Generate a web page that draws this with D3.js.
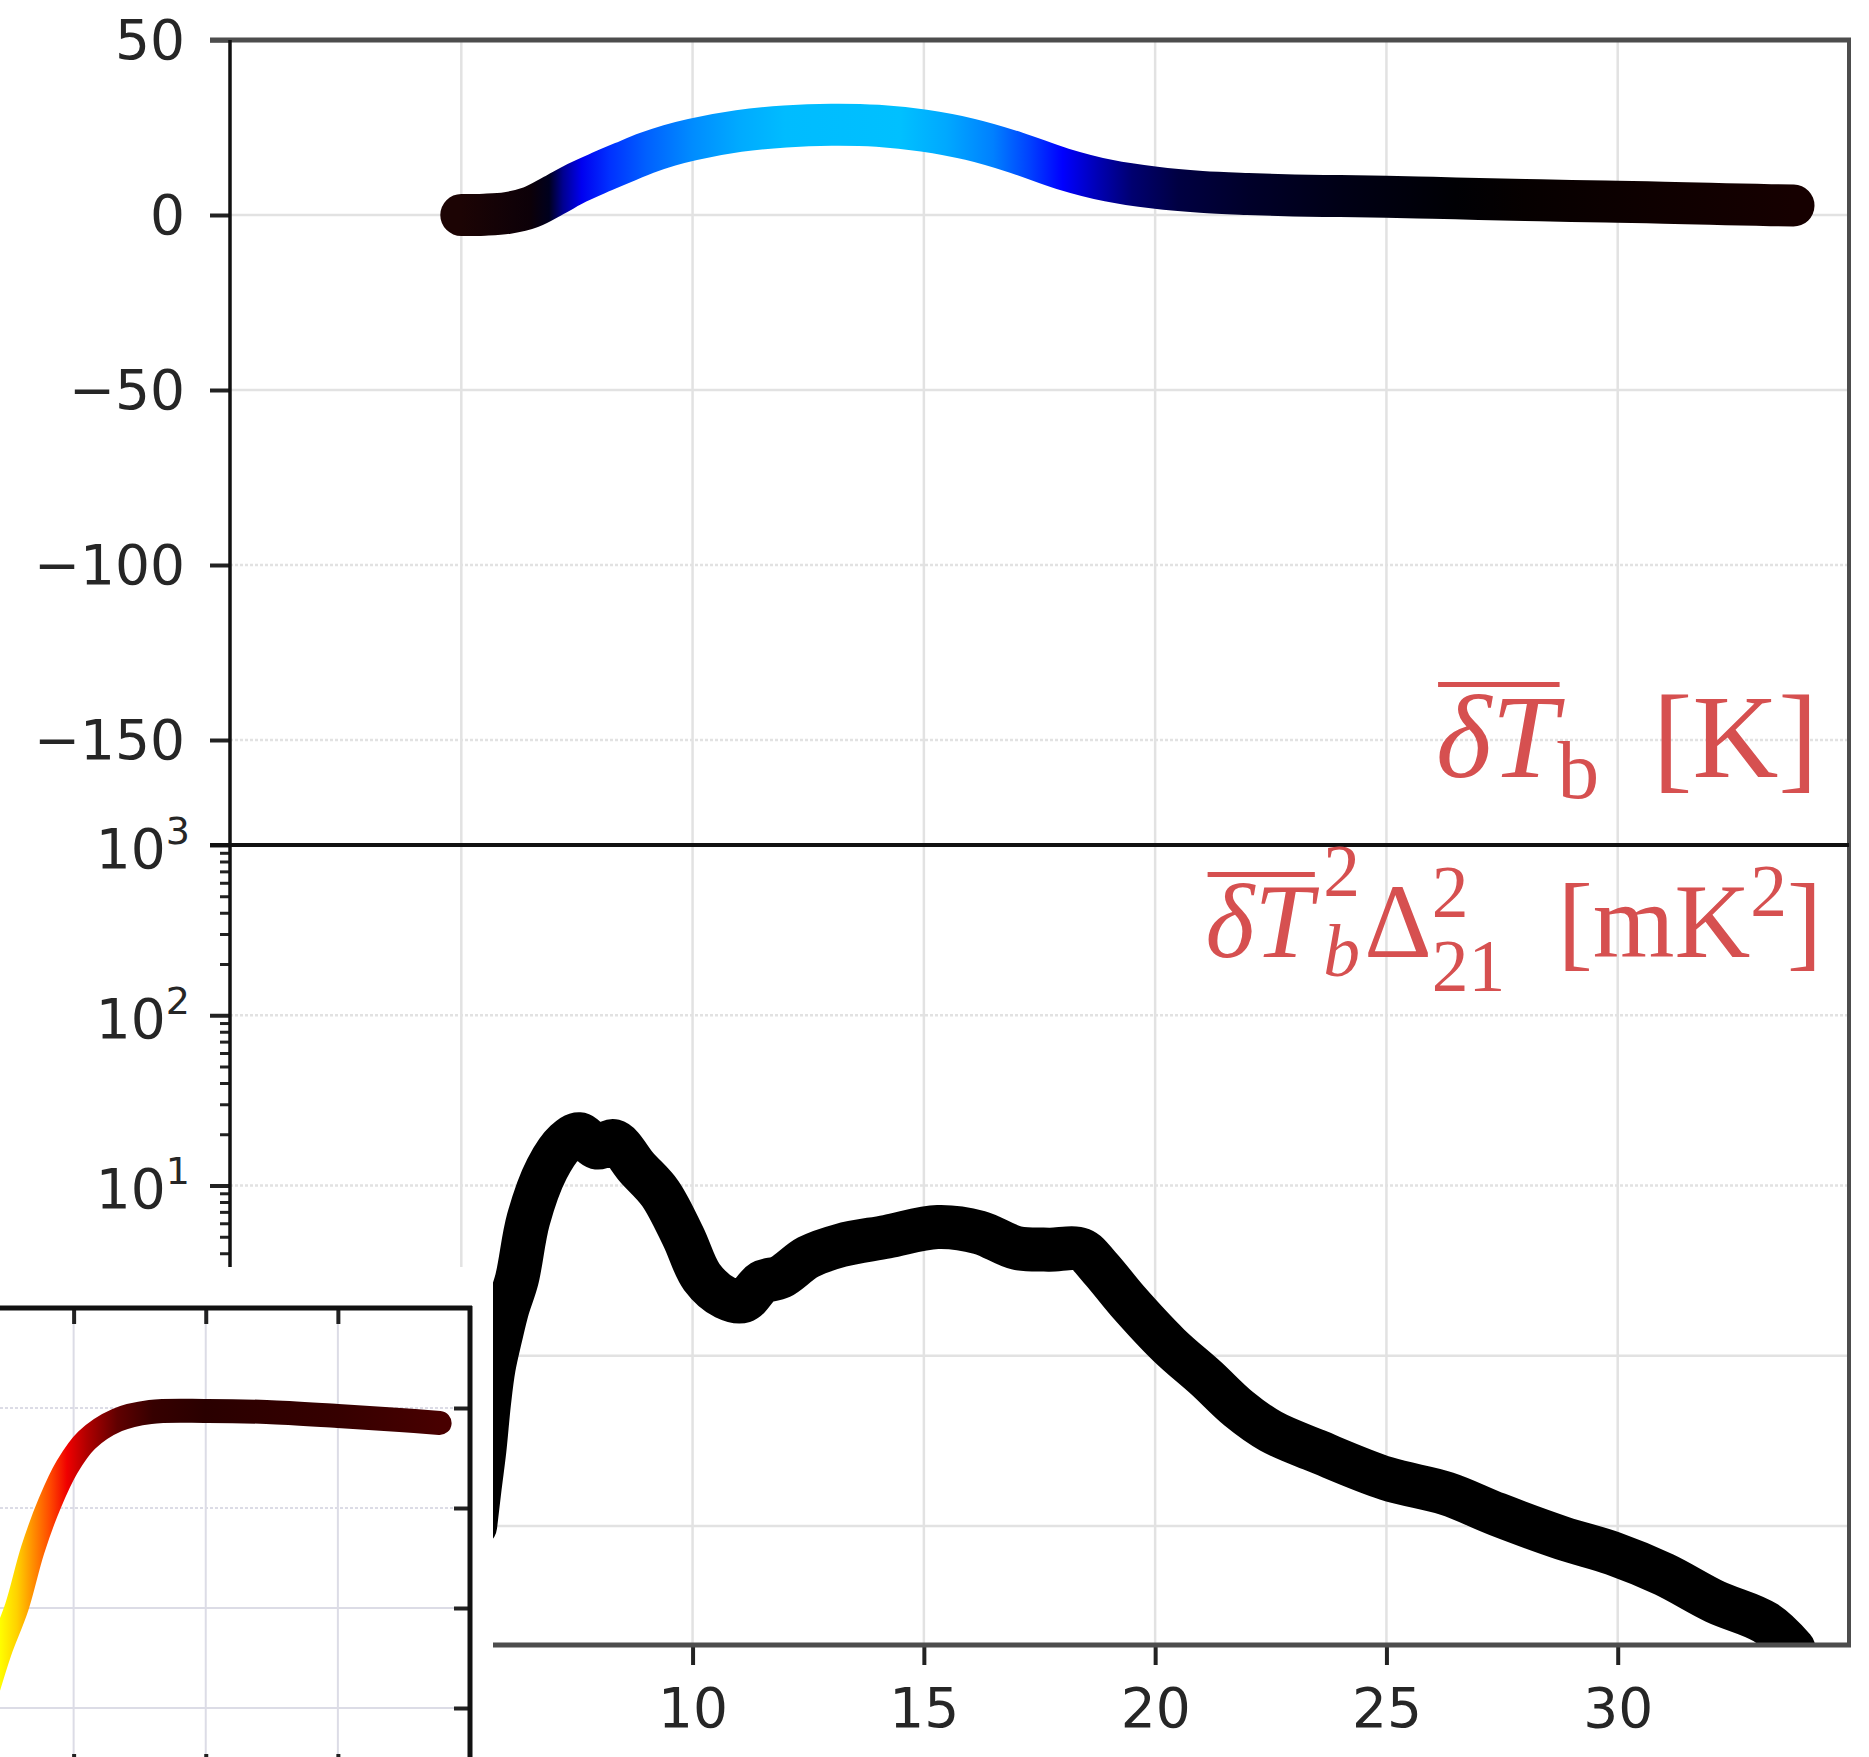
<!DOCTYPE html>
<html>
<head>
<meta charset="utf-8">
<script src="https://cdnjs.cloudflare.com/ajax/libs/d3/7.8.5/d3.min.js"></script>
<style>
  body { margin: 0; background: #fff; }
  svg { display: block; }
  .tick text { font-family: "DejaVu Sans", sans-serif; fill: #262626; }
</style>
</head>
<body>
<div id="chart"></div>
<script>
// top panel: global brightness temperature vs redshift
const topRedshift = [5.0, 5.5, 6.0, 6.5, 7.0, 7.5, 8.0, 8.5, 9.0, 9.5, 10, 11, 12, 13, 14, 15, 16, 17, 18, 19, 20, 21, 22, 23, 24, 25, 26, 27, 28, 29, 30, 31, 32, 33, 33.8];
const topTemp = [0.0, 0.1, 0.6, 2.2, 5.6, 9.2, 12.2, 15.0, 17.7, 19.9, 21.6, 24.0, 25.3, 25.8, 25.5, 24.1, 21.6, 17.8, 13.2, 9.8, 7.8, 6.6, 6.0, 5.6, 5.4, 5.2, 4.9, 4.6, 4.3, 4.0, 3.8, 3.5, 3.2, 2.9, 2.7];

// bottom panel: power spectrum vs redshift
const bottomRedshift = [5.3, 5.4, 5.5, 5.6, 5.7, 5.85, 6.0, 6.2, 6.45, 6.85, 7.25, 7.55, 7.95, 8.3, 8.8, 9.3, 9.8, 10.2, 10.7, 11.1, 11.5, 11.9, 12.5, 13.2, 14.2, 15.3, 16.2, 17.0, 17.7, 18.4, 18.8, 19.4, 20.3, 21.1, 21.8, 22.5, 23.5, 25.0, 26.3, 27.4, 28.8, 29.9, 31.0, 32.1, 33.2, 33.8];
const bottomPower = [0.10, 0.17, 0.28, 0.53, 0.85, 1.3, 1.9, 2.8, 6.3, 12.5, 18, 20, 16.7, 18.2, 12.7, 9, 5, 2.9, 2.2, 2.1, 2.7, 2.9, 3.8, 4.45, 5.0, 5.7, 5.3, 4.3, 4.2, 4.2, 3.3, 2.1, 1.15, 0.74, 0.49, 0.36, 0.275, 0.19, 0.155, 0.117, 0.085, 0.069, 0.052, 0.036, 0.027, 0.019];

// inset (pasted piece of another figure, no labels visible)
const insetX = [0.31, 0.44, 0.57, 0.69, 0.82, 0.95, 1.10, 1.33, 1.58, 2.01, 2.46, 3.0, 3.47, 3.77];
const insetY = [0.0, 0.56, 1.01, 1.58, 2.05, 2.41, 2.68, 2.88, 2.96, 2.97, 2.96, 2.92, 2.88, 2.85];

// ticks
const topTicks = [50, 0, -50, -100, -150];
const xTicks = [10, 15, 20, 25, 30];
const gridX = [5, 10, 15, 20, 25, 30];
const logMajor = [1000, 100, 10, 1, 0.1];
const insetTicksX = [1, 2, 3];
const insetTicksY = [0, 1, 2, 3];

// colour along the curves (position -> colour)
const topColorStops = [[5.0, "#1c0404"], [6.5, "#0c0008"], [6.9, "#00001e"], [7.2, "#000090"], [7.6, "#0000f0"], [8.2, "#0030ff"], [9.0, "#0060ff"], [10, "#008cff"], [11, "#00aaff"], [12, "#00bcff"], [14.5, "#00c0ff"], [15.5, "#00a8ff"], [16.5, "#0080ff"], [17.3, "#0040ff"], [18.0, "#0000ff"], [18.8, "#0000b0"], [19.5, "#000070"], [20.5, "#000042"], [22, "#00002a"], [24, "#000016"], [26.5, "#000004"], [28, "#060000"], [30, "#0c0000"], [33.8, "#160000"]];
const insetColorStops = [[0.44, "#ffff00"], [0.57, "#ffd200"], [0.69, "#ff9000"], [0.82, "#ff4a00"], [0.95, "#f00000"], [1.1, "#b00000"], [1.33, "#600000"], [1.6, "#360000"], [2.0, "#2a0000"], [3.0, "#360000"], [3.77, "#480000"]];

const width = 1869, height = 1757;
const left = 230, right = 1849;
const topY0 = 40, split = 845, bottomY1 = 1645;
const labelRed = "#d65050";

const svg = d3.select("#chart").append("svg")
  .attr("width", width)
  .attr("height", height);
const defs = svg.append("defs");

// scales
const x = d3.scaleLinear().domain([0, 35]).range([left, right]);
const yTop = d3.scaleLinear().domain([-180, 50]).range([split, topY0]);
const yLog = d3.scaleLog().domain([0.02, 1000]).range([bottomY1, split]);

function addClip(id, x0, y0, w, h) {
  defs.append("clipPath").attr("id", id)
    .append("rect").attr("x", x0).attr("y", y0).attr("width", w).attr("height", h);
}
addClip("clipTop", left, topY0, right - left, split - topY0);
addClip("clipBottom", left, split, right - left, bottomY1 - split);

function addGradient(id, stops, scale) {
  const x1 = scale(stops[0][0]), x2 = scale(stops[stops.length - 1][0]);
  const grad = defs.append("linearGradient").attr("id", id)
    .attr("gradientUnits", "userSpaceOnUse")
    .attr("x1", x1).attr("x2", x2).attr("y1", 0).attr("y2", 0);
  grad.selectAll("stop").data(stops).join("stop")
    .attr("offset", s => (scale(s[0]) - x1) / (x2 - x1))
    .attr("stop-color", s => s[1]);
}
addGradient("topGrad", topColorStops, x);

// grid lines
const grid = svg.append("g").attr("stroke", "#e2e2e2").attr("stroke-width", 2.5);
grid.selectAll(".vg").data(gridX).join("line")
  .attr("x1", d => x(d)).attr("x2", d => x(d))
  .attr("y1", topY0).attr("y2", bottomY1);
grid.selectAll(".ht").data([0, -50, -100, -150]).join("line")
  .attr("x1", left).attr("x2", right)
  .attr("y1", d => yTop(d)).attr("y2", d => yTop(d))
  .attr("stroke-dasharray", d => d < -60 ? "3,2" : null);
grid.selectAll(".hb").data([100, 10, 1, 0.1]).join("line")
  .attr("x1", left).attr("x2", right)
  .attr("y1", d => yLog(d)).attr("y2", d => yLog(d))
  .attr("stroke-dasharray", d => d > 5 ? "3,2" : null);

// top curve
const topLine = d3.line()
  .x((d, i) => x(topRedshift[i]))
  .y(d => yTop(d))
  .curve(d3.curveCatmullRom);
svg.append("path")
  .datum(topTemp)
  .attr("clip-path", "url(#clipTop)")
  .attr("fill", "none")
  .attr("stroke", "url(#topGrad)")
  .attr("stroke-width", 42)
  .attr("stroke-linecap", "round")
  .attr("stroke-linejoin", "round")
  .attr("d", topLine);

// bottom curve
const bottomLine = d3.line()
  .x((d, i) => x(bottomRedshift[i]))
  .y(d => yLog(d))
  .curve(d3.curveCatmullRom.alpha(0.5));
svg.append("path")
  .datum(bottomPower)
  .attr("clip-path", "url(#clipBottom)")
  .attr("fill", "none")
  .attr("stroke", "#000")
  .attr("stroke-width", 44)
  .attr("stroke-linecap", "round")
  .attr("stroke-linejoin", "round")
  .attr("d", bottomLine);

// axes
function styleAxis(g, w) {
  g.select(".domain").remove();
  g.selectAll(".tick line").attr("stroke", "#222").attr("stroke-width", w);
}
const fmtTop = d => d < 0 ? "\u2212" + Math.abs(d) : String(d);
svg.append("g")
  .attr("transform", `translate(${left},0)`)
  .call(d3.axisLeft(yTop).tickValues(topTicks).tickSize(20).tickPadding(25).tickFormat(fmtTop))
  .call(g => styleAxis(g, 4))
  .selectAll("text").attr("font-size", 55).attr("dy", "0.34em");

const minor = [];
[0.01, 0.1, 1, 10, 100].forEach(b => { for (let k = 2; k <= 9; k++) minor.push(b * k); });
svg.append("g")
  .attr("transform", `translate(${left},0)`)
  .call(d3.axisLeft(yLog).tickValues(minor.filter(v => v > 0.02 && v < 1000)).tickSize(10).tickFormat(""))
  .call(g => styleAxis(g, 3));
const logAxis = svg.append("g")
  .attr("transform", `translate(${left},0)`)
  .call(d3.axisLeft(yLog).tickValues(logMajor).tickSize(20).tickPadding(20).tickFormat(""))
  .call(g => styleAxis(g, 4));
logAxis.selectAll(".tick text").each(function (d) {
  const t = d3.select(this).attr("font-size", 55).attr("dy", "0.4em");
  t.append("tspan").text("10");
  t.append("tspan").attr("font-size", 38).attr("dy", "-0.62em").text(Math.round(Math.log10(d)));
});

svg.append("g")
  .attr("transform", `translate(0,${bottomY1})`)
  .call(d3.axisBottom(x).tickValues(xTicks).tickSize(20).tickPadding(23))
  .call(g => styleAxis(g, 4))
  .selectAll("text").attr("font-size", 55);

// spines
const spines = svg.append("g").attr("fill", "none");
spines.append("line").attr("x1", left - 20).attr("x2", right + 2).attr("y1", topY0).attr("y2", topY0)
  .attr("stroke", "#4d4d4d").attr("stroke-width", 5);
spines.append("line").attr("x1", right).attr("x2", right).attr("y1", topY0).attr("y2", bottomY1)
  .attr("stroke", "#4d4d4d").attr("stroke-width", 4);
spines.append("line").attr("x1", left).attr("x2", right + 2).attr("y1", bottomY1).attr("y2", bottomY1)
  .attr("stroke", "#4d4d4d").attr("stroke-width", 5);
spines.append("line").attr("x1", left).attr("x2", left).attr("y1", topY0).attr("y2", bottomY1)
  .attr("stroke", "#111").attr("stroke-width", 3.5);
spines.append("line").attr("x1", left - 20).attr("x2", right).attr("y1", split).attr("y2", split)
  .attr("stroke", "#111").attr("stroke-width", 4);

// math labels, laid out piece by piece
function mathLabel(pieces, xRight, base, size, overEnd, overY) {
  const g = svg.append("g")
    .attr("fill", labelRed)
    .attr("font-family", "'Liberation Serif', 'Times New Roman', serif");
  let cx = 0, held = 0;
  pieces.forEach(p => {
    cx += (p.gap || 0) * size;
    const t = g.append("text")
      .attr("x", cx)
      .attr("y", base + (p.dy || 0) * size)
      .attr("font-size", size * (p.s || 1))
      .attr("font-style", p.it ? "italic" : "normal")
      .text(p.t);
    const w = t.node().getComputedTextLength();
    p.x0 = cx; p.w = w;
    if (p.hold) { held = w; }
    else { cx += Math.max(w, held); held = 0; }
  });
  const x0 = pieces[0].x0, x1 = pieces[overEnd].x0 + pieces[overEnd].w;
  g.append("rect").attr("x", x0 + 2).attr("y", overY).attr("width", x1 - x0).attr("height", 5);
  g.attr("transform", `translate(${xRight - cx},0)`);
}

mathLabel([
  { t: "\u03b4", it: true },
  { t: "T", it: true },
  { t: "b", s: 0.7, dy: 0.18 },
  { t: "[K]", gap: 0.45 }
], 1818, 777, 119, 1, 682);

mathLabel([
  { t: "\u03b4", it: true },
  { t: "T", it: true },
  { t: "2", s: 0.7, dy: -0.58, hold: true, gap: 0.1 },
  { t: "b", it: true, s: 0.7, dy: 0.18 },
  { t: "\u0394", gap: 0.04 },
  { t: "2", s: 0.7, dy: -0.38, hold: true },
  { t: "21", s: 0.7, dy: 0.32 },
  { t: "[mK", gap: 0.5 },
  { t: "2", s: 0.7, dy: -0.39 },
  { t: "]" }
], 1822, 957, 105, 1, 872);

// inset piece of another figure, pasted on top
const inset = svg.append("g");
inset.append("rect").attr("x", 0).attr("y", 1267).attr("width", 493).attr("height", height - 1267).attr("fill", "#fff");
const ix = d3.scaleLinear().domain([0, 4]).range([-58.5, 470]);
const iy = d3.scaleLinear().domain([-0.62, 4]).range([1770, 1308]);
addClip("clipInset", 0, 1308, 470, 470);
addGradient("insetGrad", insetColorStops, ix);

const ig = inset.append("g").attr("stroke", "#dcdce6").attr("stroke-width", 2);
ig.selectAll(".ivx").data(insetTicksX).join("line")
  .attr("x1", d => ix(d)).attr("x2", d => ix(d)).attr("y1", 1308).attr("y2", 1770);
ig.selectAll(".ivy").data(insetTicksY).join("line")
  .attr("x1", 0).attr("x2", 470).attr("y1", d => iy(d)).attr("y2", d => iy(d))
  .attr("stroke-dasharray", d => d >= 2 ? "3,2" : null);

const insetLine = d3.line()
  .x((d, i) => ix(insetX[i]))
  .y(d => iy(d))
  .curve(d3.curveCatmullRom);
inset.append("path")
  .datum(insetY)
  .attr("clip-path", "url(#clipInset)")
  .attr("fill", "none")
  .attr("stroke", "url(#insetGrad)")
  .attr("stroke-width", 24)
  .attr("stroke-linecap", "round")
  .attr("stroke-linejoin", "round")
  .attr("d", insetLine);

inset.append("g").attr("transform", "translate(0,1308)")
  .call(d3.axisTop(ix).tickValues(insetTicksX).tickSize(-16).tickFormat(""))
  .call(g => styleAxis(g, 4));
inset.append("g").attr("transform", "translate(0,1770)")
  .call(d3.axisBottom(ix).tickValues(insetTicksX).tickSize(-16).tickFormat(""))
  .call(g => styleAxis(g, 4));
inset.append("g").attr("transform", "translate(470,0)")
  .call(d3.axisRight(iy).tickValues(insetTicksY).tickSize(-16).tickFormat(""))
  .call(g => styleAxis(g, 4));
inset.append("line").attr("x1", 0).attr("x2", 472).attr("y1", 1308).attr("y2", 1308)
  .attr("stroke", "#111").attr("stroke-width", 5);
inset.append("line").attr("x1", 470).attr("x2", 470).attr("y1", 1306).attr("y2", height)
  .attr("stroke", "#111").attr("stroke-width", 5);
</script>
</body>
</html>
